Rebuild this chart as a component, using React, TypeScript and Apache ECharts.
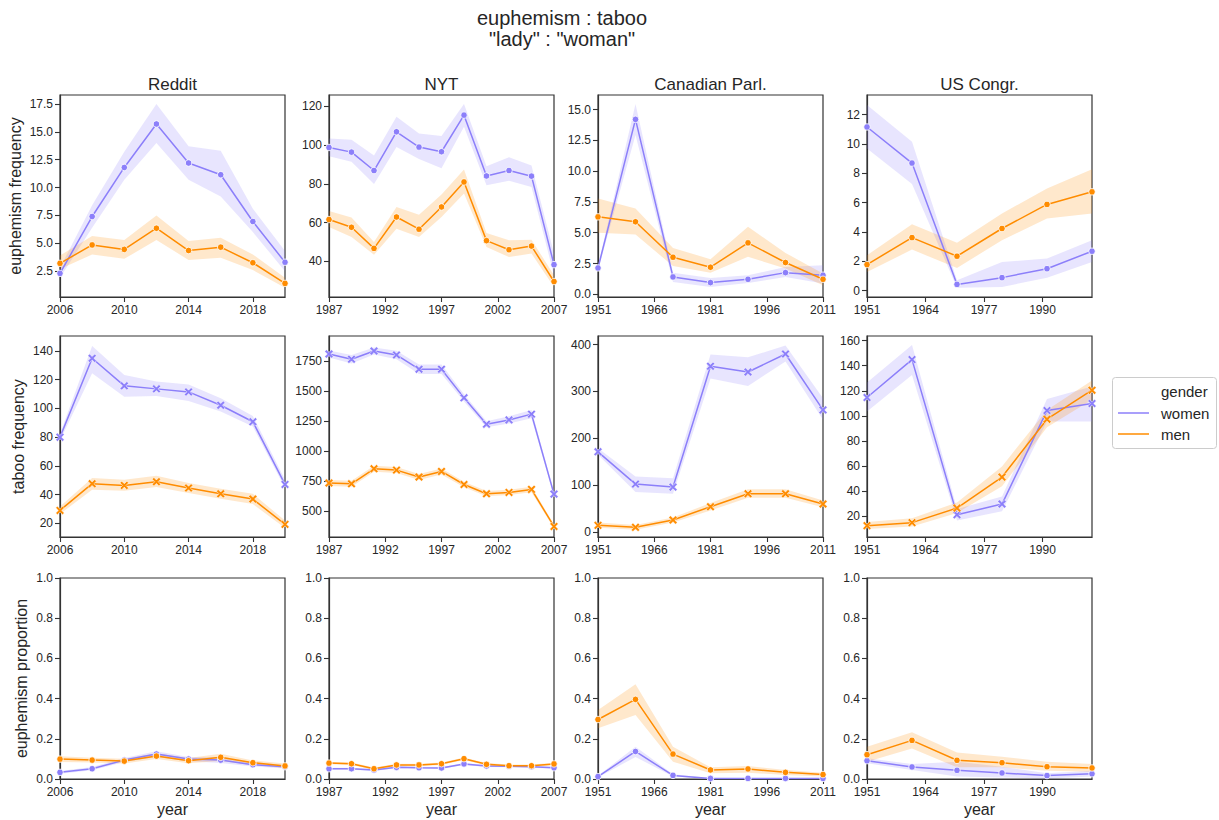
import React, { useEffect, useRef } from "react";
import * as echarts from "echarts";

// ---------- x values (years) ----------
const redditYears = [2006, 2008, 2010, 2012, 2014, 2016, 2018, 2020];
const nytYears = [1987, 1989, 1991, 1993, 1995, 1997, 1999, 2001, 2003, 2005, 2007];
const canYears = [1951, 1961, 1971, 1981, 1991, 2001, 2011];
const usYears = [1951, 1961, 1971, 1981, 1991, 2001];

// ---------- tick labels ----------
const redditXTicks = [2006, 2010, 2014, 2018];
const nytXTicks = [1987, 1992, 1997, 2002, 2007];
const canXTicks = [1951, 1966, 1981, 1996, 2011];
const usXTicks = [1951, 1964, 1977, 1990];

const r1RedditYTicks = [2.5, 5, 7.5, 10, 12.5, 15, 17.5];
const r1NytYTicks = [40, 60, 80, 100, 120];
const r1CanYTicks = [0, 2.5, 5, 7.5, 10, 12.5, 15];
const r1UsYTicks = [0, 2, 4, 6, 8, 10, 12];
const r2RedditYTicks = [20, 40, 60, 80, 100, 120, 140];
const r2NytYTicks = [500, 750, 1000, 1250, 1500, 1750];
const r2CanYTicks = [0, 100, 200, 300, 400];
const r2UsYTicks = [20, 40, 60, 80, 100, 120, 140, 160];
const r3YTicks = [0, 0.2, 0.4, 0.6, 0.8, 1.0];

// ---------- row 1: euphemism frequency ----------
const r1RedditW = [2.3, 7.4, 11.8, 15.7, 12.2, 11.15, 6.95, 3.3];
const r1RedditWLo = [1.9, 6.4, 10.7, 14.0, 10.7, 9.2, 6.0, 2.5];
const r1RedditWHi = [2.8, 8.4, 13.2, 17.5, 13.7, 13.3, 8.1, 4.3];
const r1RedditM = [3.2, 4.85, 4.45, 6.35, 4.35, 4.65, 3.25, 1.4];
const r1RedditMLo = [2.7, 4.0, 3.6, 5.3, 3.5, 3.7, 2.6, 1.0];
const r1RedditMHi = [3.9, 5.65, 5.3, 7.5, 5.2, 5.5, 4.0, 1.9];

const r1NytW = [98.8, 96.4, 86.9, 106.9, 99.0, 96.6, 115.5, 84.1, 86.9, 84.0, 38.3];
const r1NytWLo = [94.3, 91.4, 79.9, 99.1, 92.8, 88.1, 109.5, 79.3, 81.6, 78.4, 32.8];
const r1NytWHi = [103.4, 102.8, 94.7, 114.7, 106.0, 104.7, 121.2, 89.1, 93.8, 89.5, 44.0];
const r1NytM = [61.6, 57.6, 46.7, 62.9, 56.6, 68.1, 81.0, 50.7, 46.0, 47.9, 29.6];
const r1NytMLo = [57.8, 52.6, 43.4, 56.9, 52.6, 62.9, 75.0, 47.4, 42.2, 44.0, 26.8];
const r1NytMHi = [66.0, 62.6, 50.0, 68.1, 64.1, 74.5, 87.4, 54.7, 50.9, 51.2, 32.8];

const r1CanW = [2.14, 14.21, 1.41, 0.95, 1.22, 1.76, 1.55];
const r1CanWLo = [1.95, 12.94, 1.0, 0.6, 0.92, 1.41, 0.87];
const r1CanWHi = [2.3, 15.46, 1.76, 1.33, 1.55, 2.22, 2.36];
const r1CanM = [6.29, 5.89, 3.01, 2.2, 4.18, 2.58, 1.22];
const r1CanMLo = [4.99, 4.85, 2.3, 1.74, 3.04, 2.09, 0.73];
const r1CanMHi = [7.78, 6.97, 3.77, 2.85, 5.48, 3.36, 1.68];

const r1UsW = [11.16, 8.7, 0.43, 0.89, 1.5, 2.69];
const r1UsWLo = [9.7, 7.27, 0.2, 0.25, 0.89, 1.96];
const r1UsWHi = [12.66, 10.16, 0.71, 1.96, 2.19, 3.44];
const r1UsM = [1.78, 3.62, 2.35, 4.24, 5.88, 6.74];
const r1UsMLo = [1.28, 2.8, 1.55, 3.44, 4.92, 5.26];
const r1UsMHi = [2.41, 4.53, 3.26, 5.26, 6.97, 8.27];

// ---------- row 2: taboo frequency ----------
const r2RedditW = [80.0, 134.9, 115.7, 113.6, 111.5, 102.2, 90.7, 47.1];
const r2RedditWLo = [77.7, 124.5, 108.2, 108.7, 105.1, 97.8, 87.4, 44.6];
const r2RedditWHi = [82.4, 143.5, 123.3, 118.7, 116.6, 107.1, 94.8, 50.3];
const r2RedditM = [29.0, 47.6, 46.4, 49.0, 44.6, 40.6, 36.9, 19.3];
const r2RedditMLo = [26.5, 43.4, 42.7, 45.3, 41.1, 37.1, 33.4, 16.8];
const r2RedditMHi = [31.8, 51.5, 50.3, 53.1, 48.0, 44.0, 40.6, 21.9];

const r2NytW = [1808, 1764, 1833, 1800, 1681, 1681, 1442, 1222, 1258, 1306, 639];
const r2NytWLo = [1778, 1729, 1803, 1765, 1641, 1641, 1412, 1197, 1228, 1271, 619];
const r2NytWHi = [1838, 1799, 1863, 1835, 1721, 1721, 1472, 1247, 1288, 1341, 659];
const r2NytM = [731, 725, 850, 839, 781, 828, 719, 642, 653, 678, 369];
const r2NytMLo = [706, 700, 825, 814, 756, 803, 697, 620, 631, 655, 352];
const r2NytMHi = [756, 750, 875, 864, 806, 853, 741, 664, 675, 701, 386];

const r2CanW = [171.2, 102.3, 95.9, 353.8, 341.7, 380.1, 260.7];
const r2CanWLo = [165, 85.3, 81.7, 328, 312, 364, 239.4];
const r2CanWHi = [179, 118.7, 115, 379, 373, 398, 285.6];
const r2CanM = [14.2, 9.9, 25.6, 54.0, 81.7, 81.7, 59.7];
const r2CanMLo = [9, 5, 20, 46, 73, 73, 53];
const r2CanMHi = [20, 15, 31, 62, 91, 91, 67];

const r2UsW = [114.7, 144.9, 21.3, 29.8, 104.3, 109.9];
const r2UsWLo = [103.5, 132.7, 16.8, 24, 95.6, 95.6];
const r2UsWHi = [126.6, 156.6, 25.8, 35.9, 113.6, 123.4];
const r2UsM = [12.6, 15.0, 26.6, 51.3, 97.4, 120.5];
const r2UsMLo = [9.9, 12.0, 22.7, 43.9, 91.0, 112.9];
const r2UsMHi = [15.5, 18.4, 31.1, 59.8, 104.8, 128.2];

// ---------- row 3: euphemism proportion ----------
const r3RedditW = [0.033, 0.051, 0.094, 0.124, 0.099, 0.094, 0.071, 0.061];
const r3RedditWLo = [0.026, 0.043, 0.084, 0.11, 0.088, 0.08, 0.062, 0.052];
const r3RedditWHi = [0.04, 0.06, 0.104, 0.138, 0.11, 0.108, 0.08, 0.07];
const r3RedditM = [0.099, 0.094, 0.089, 0.114, 0.091, 0.108, 0.081, 0.065];
const r3RedditMLo = [0.085, 0.082, 0.077, 0.1, 0.078, 0.09, 0.07, 0.053];
const r3RedditMHi = [0.113, 0.106, 0.101, 0.128, 0.104, 0.126, 0.092, 0.077];

const r3NytW = [0.051, 0.051, 0.045, 0.058, 0.056, 0.055, 0.075, 0.065, 0.063, 0.061, 0.056];
const r3NytWLo = [0.046, 0.046, 0.04, 0.053, 0.051, 0.05, 0.07, 0.06, 0.058, 0.056, 0.051];
const r3NytWHi = [0.056, 0.056, 0.05, 0.063, 0.061, 0.06, 0.08, 0.07, 0.068, 0.066, 0.061];
const r3NytM = [0.079, 0.076, 0.051, 0.07, 0.07, 0.076, 0.101, 0.073, 0.066, 0.066, 0.075];
const r3NytMLo = [0.073, 0.07, 0.045, 0.064, 0.064, 0.07, 0.095, 0.067, 0.06, 0.06, 0.069];
const r3NytMHi = [0.085, 0.082, 0.057, 0.076, 0.076, 0.082, 0.107, 0.079, 0.072, 0.072, 0.081];

const r3CanW = [0.012, 0.137, 0.018, 0.003, 0.003, 0.003, 0.003];
const r3CanWLo = [0.008, 0.11, 0.012, 0.001, 0.001, 0.001, 0.001];
const r3CanWHi = [0.016, 0.16, 0.024, 0.005, 0.005, 0.005, 0.005];
const r3CanM = [0.296, 0.396, 0.124, 0.045, 0.05, 0.033, 0.022];
const r3CanMLo = [0.252, 0.318, 0.086, 0.028, 0.031, 0.02, 0.012];
const r3CanMHi = [0.343, 0.472, 0.161, 0.058, 0.065, 0.045, 0.031];

const r3UsW = [0.091, 0.06, 0.043, 0.03, 0.017, 0.026];
const r3UsWLo = [0.078, 0.045, 0.012, 0.008, 0.003, 0.012];
const r3UsWHi = [0.103, 0.075, 0.086, 0.061, 0.028, 0.041];
const r3UsM = [0.121, 0.192, 0.093, 0.081, 0.061, 0.055];
const r3UsMLo = [0.086, 0.152, 0.058, 0.058, 0.041, 0.036];
const r3UsMHi = [0.161, 0.233, 0.132, 0.111, 0.086, 0.075];

const columnTitles = ["Reddit", "NYT", "Canadian Parl.", "US Congr."];
const rowLabels = ["euphemism frequency", "taboo frequency", "euphemism proportion"];
const legendTitle = "gender";
const genderNames = ["women", "men"];

// ---------- styling ----------
const WOMEN = "#8c7ffa";
const MEN = "#ff8c00";
const AXIS = "#333333";
const TEXT = "#262626";
const FONT = "'Liberation Sans', Arial, Helvetica, sans-serif";
const colLeft = [60, 329, 598, 867];
const colWidth = 225;
const rowTop = [95, 336, 578];
const rowHeight = [202, 201, 201];
const yNameGap = [37, 34, 31];
const X_SYMBOL =
  "path://M0,2 L2,0 L5,3 L8,0 L10,2 L7,5 L10,8 L8,10 L5,7 L2,10 L0,8 L3,5 Z";

type Panel = {
  years: number[];
  xTicks: number[];
  xRange: [number, number];
  yTicks: number[];
  yRange: [number, number];
  yDec: number;
  w: number[];
  wLo: number[];
  wHi: number[];
  m: number[];
  mLo: number[];
  mHi: number[];
};

const colX = [
  { years: redditYears, xTicks: redditXTicks, xRange: [2006, 2020] as [number, number] },
  { years: nytYears, xTicks: nytXTicks, xRange: [1987, 2007] as [number, number] },
  { years: canYears, xTicks: canXTicks, xRange: [1951, 2011] as [number, number] },
  { years: usYears, xTicks: usXTicks, xRange: [1951, 2001] as [number, number] },
];

const panels: Panel[][] = [
  [
    { ...colX[0], yTicks: r1RedditYTicks, yRange: [0.18, 18.3], yDec: 1, w: r1RedditW, wLo: r1RedditWLo, wHi: r1RedditWHi, m: r1RedditM, mLo: r1RedditMLo, mHi: r1RedditMHi },
    { ...colX[1], yTicks: r1NytYTicks, yRange: [21.6, 125.9], yDec: 0, w: r1NytW, wLo: r1NytWLo, wHi: r1NytWHi, m: r1NytM, mLo: r1NytMLo, mHi: r1NytMHi },
    { ...colX[2], yTicks: r1CanYTicks, yRange: [-0.22, 16.19], yDec: 1, w: r1CanW, wLo: r1CanWLo, wHi: r1CanWHi, m: r1CanM, mLo: r1CanMLo, mHi: r1CanMHi },
    { ...colX[3], yTicks: r1UsYTicks, yRange: [-0.43, 13.34], yDec: 0, w: r1UsW, wLo: r1UsWLo, wHi: r1UsWHi, m: r1UsM, mLo: r1UsMLo, mHi: r1UsMHi },
  ],
  [
    { ...colX[0], yTicks: r2RedditYTicks, yRange: [10.5, 150.4], yDec: 0, w: r2RedditW, wLo: r2RedditWLo, wHi: r2RedditWHi, m: r2RedditM, mLo: r2RedditMLo, mHi: r2RedditMHi },
    { ...colX[1], yTicks: r2NytYTicks, yRange: [281, 1958], yDec: 0, w: r2NytW, wLo: r2NytWLo, wHi: r2NytWHi, m: r2NytM, mLo: r2NytMLo, mHi: r2NytMHi },
    { ...colX[2], yTicks: r2CanYTicks, yRange: [-10.7, 418.5], yDec: 0, w: r2CanW, wLo: r2CanWLo, wHi: r2CanWHi, m: r2CanM, mLo: r2CanMLo, mHi: r2CanMHi },
    { ...colX[3], yTicks: r2UsYTicks, yRange: [3.56, 163.7], yDec: 0, w: r2UsW, wLo: r2UsWLo, wHi: r2UsWHi, m: r2UsM, mLo: r2UsMLo, mHi: r2UsMHi },
  ],
  [
    { ...colX[0], yTicks: r3YTicks, yRange: [0, 1], yDec: 1, w: r3RedditW, wLo: r3RedditWLo, wHi: r3RedditWHi, m: r3RedditM, mLo: r3RedditMLo, mHi: r3RedditMHi },
    { ...colX[1], yTicks: r3YTicks, yRange: [0, 1], yDec: 1, w: r3NytW, wLo: r3NytWLo, wHi: r3NytWHi, m: r3NytM, mLo: r3NytMLo, mHi: r3NytMHi },
    { ...colX[2], yTicks: r3YTicks, yRange: [0, 1], yDec: 1, w: r3CanW, wLo: r3CanWLo, wHi: r3CanWHi, m: r3CanM, mLo: r3CanMLo, mHi: r3CanMHi },
    { ...colX[3], yTicks: r3YTicks, yRange: [0, 1], yDec: 1, w: r3UsW, wLo: r3UsWLo, wHi: r3UsWHi, m: r3UsM, mLo: r3UsMLo, mHi: r3UsMHi },
  ],
];

function bandSeries(idx: number, years: number[], lo: number[], hi: number[], color: string) {
  return {
    type: "custom",
    xAxisIndex: idx,
    yAxisIndex: idx,
    z: 1,
    silent: true,
    clip: true,
    encode: { x: 0, y: 1 },
    data: years.map((y, i) => [y, lo[i], hi[i]]),
    renderItem: (params: any, api: any) => {
      if (params.dataIndex !== 0) return null;
      const pts: number[][] = [];
      for (let i = 0; i < years.length; i++) pts.push(api.coord([years[i], hi[i]]));
      for (let i = years.length - 1; i >= 0; i--) pts.push(api.coord([years[i], lo[i]]));
      return {
        type: "polygon",
        shape: { points: pts },
        style: { fill: color, opacity: 0.2 },
      };
    },
  };
}

function lineSeries(idx: number, name: string, years: number[], vals: number[], color: string, row: number) {
  const cross = row === 1;
  return {
    type: "line",
    name,
    xAxisIndex: idx,
    yAxisIndex: idx,
    z: 3,
    clip: true,
    data: years.map((y, i) => [y, vals[i]]),
    symbol: cross ? X_SYMBOL : "circle",
    symbolSize: cross ? 8.5 : 6.5,
    showAllSymbol: true,
    lineStyle: { color, width: 1.5 },
    itemStyle: { color, borderColor: "#ffffff", borderWidth: cross ? 0.5 : 0.8 },
    emphasis: { disabled: true },
  };
}

function buildOption() {
  const grid: any[] = [];
  const xAxis: any[] = [];
  const yAxis: any[] = [];
  const series: any[] = [];
  for (let r = 0; r < 3; r++) {
    for (let c = 0; c < 4; c++) {
      const idx = r * 4 + c;
      const p = panels[r][c];
      grid.push({
        left: colLeft[c],
        top: rowTop[r],
        width: colWidth,
        height: rowHeight[r],
        show: true,
        borderColor: AXIS,
        borderWidth: 1.2,
        backgroundColor: "transparent",
        containLabel: false,
      });
      xAxis.push({
        type: "value",
        gridIndex: idx,
        min: p.xRange[0],
        max: p.xRange[1],
        splitLine: { show: false },
        axisLine: { show: true, onZero: false, lineStyle: { color: AXIS, width: 1.2 } },
        axisTick: { show: true, length: 5, customValues: p.xTicks, lineStyle: { color: AXIS, width: 1.1 } },
        axisLabel: {
          customValues: p.xTicks,
          color: TEXT,
          fontSize: 12,
          fontFamily: FONT,
          margin: 7,
          formatter: (v: number) => String(v),
        },
        name: r === 2 ? "year" : "",
        nameLocation: "middle",
        nameGap: 22,
        nameTextStyle: { fontSize: 16, color: TEXT, fontFamily: FONT },
      });
      const dec = p.yDec;
      yAxis.push({
        type: "value",
        gridIndex: idx,
        min: p.yRange[0],
        max: p.yRange[1],
        splitLine: { show: false },
        axisLine: { show: true, onZero: false, lineStyle: { color: AXIS, width: 1.2 } },
        axisTick: { show: true, length: 5, customValues: p.yTicks, lineStyle: { color: AXIS, width: 1.1 } },
        axisLabel: {
          customValues: p.yTicks,
          color: TEXT,
          fontSize: 12,
          fontFamily: FONT,
          margin: 7,
          formatter: (v: number) => v.toFixed(dec),
        },
        name: c === 0 ? rowLabels[r] : "",
        nameLocation: "middle",
        nameGap: yNameGap[r],
        nameTextStyle: { fontSize: 16, color: TEXT, fontFamily: FONT },
      });
      series.push(bandSeries(idx, p.years, p.wLo, p.wHi, WOMEN));
      series.push(bandSeries(idx, p.years, p.mLo, p.mHi, MEN));
      series.push(lineSeries(idx, genderNames[0], p.years, p.w, WOMEN, r));
      series.push(lineSeries(idx, genderNames[1], p.years, p.m, MEN, r));
    }
  }

  const graphic: any[] = [
    {
      type: "text",
      x: 562,
      y: 18,
      style: { text: "euphemism : taboo", fontSize: 20, fontFamily: FONT, fill: TEXT, textAlign: "center", textVerticalAlign: "middle" },
    },
    {
      type: "text",
      x: 562,
      y: 39,
      style: { text: '"lady" : "woman"', fontSize: 20, fontFamily: FONT, fill: TEXT, textAlign: "center", textVerticalAlign: "middle" },
    },
  ];
  columnTitles.forEach((t, c) => {
    graphic.push({
      type: "text",
      x: colLeft[c] + colWidth / 2,
      y: 84,
      style: { text: t, fontSize: 17, fontFamily: FONT, fill: TEXT, textAlign: "center", textVerticalAlign: "middle" },
    });
  });
  // legend
  graphic.push({
    type: "rect",
    shape: { x: 1112.5, y: 377.5, width: 104, height: 71, r: 3 },
    style: { fill: "#ffffff", stroke: "#cccccc", lineWidth: 1 },
  });
  graphic.push({
    type: "text",
    x: 1161,
    y: 391,
    style: { text: legendTitle, fontSize: 15, fontFamily: FONT, fill: TEXT, textAlign: "left", textVerticalAlign: "middle" },
  });
  [WOMEN, MEN].forEach((col, i) => {
    const y = 413 + i * 21;
    graphic.push({
      type: "line",
      shape: { x1: 1118, y1: y, x2: 1149, y2: y },
      style: { stroke: col, lineWidth: 1.5 },
    });
    graphic.push({
      type: "text",
      x: 1161,
      y,
      style: { text: genderNames[i], fontSize: 15, fontFamily: FONT, fill: TEXT, textAlign: "left", textVerticalAlign: "middle" },
    });
  });

  return {
    animation: false,
    backgroundColor: "#ffffff",
    textStyle: { fontFamily: FONT },
    grid,
    xAxis,
    yAxis,
    series,
    graphic,
  };
}

export default function App() {
  const ref = useRef<HTMLDivElement>(null);
  useEffect(() => {
    document.body.style.margin = "0";
    if (!ref.current) return;
    const chart = echarts.init(ref.current, undefined, { renderer: "svg" });
    chart.setOption(buildOption() as any);
    return () => chart.dispose();
  }, []);
  return <div ref={ref} style={{ width: 1219, height: 820 }} />;
}
